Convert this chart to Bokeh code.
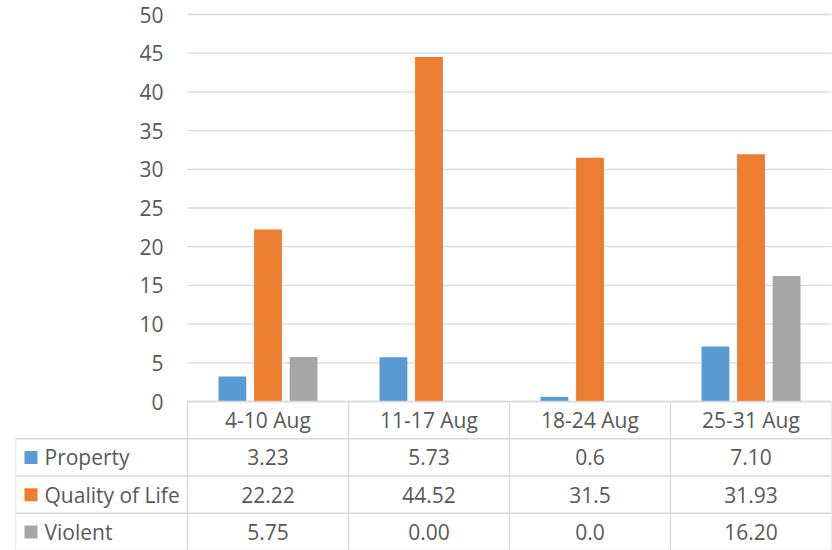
from bokeh.plotting import figure
from bokeh.models import Range1d
from bokeh.core.properties import value
from bokeh.embed import file_html
from bokeh.resources import INLINE

# ---- data ----
weeks = ["4-10 Aug", "11-17 Aug", "18-24 Aug", "25-31 Aug"]
series_names = ["Property", "Quality of Life", "Violent"]
property_vals = [3.23, 5.73, 0.6, 7.10]
quality_vals = [22.22, 44.52, 31.5, 31.93]
violent_vals = [5.75, 0.00, 0.0, 16.20]
property_labels = ["3.23", "5.73", "0.6", "7.10"]
quality_labels = ["22.22", "44.52", "31.5", "31.93"]
violent_labels = ["5.75", "0.00", "0.0", "16.20"]
y_ticks = [0, 5, 10, 15, 20, 25, 30, 35, 40, 45, 50]

colors = ["#5B9BD5", "#ED7D31", "#A5A5A5"]
TEXT = "#595959"
GRID = "#d9d9d9"
FONT = value("Open Sans")
FSIZE = "21px"

n = len(weeks)
LEFT_W = 172 / 161          # label column width, in category widths
TOP_PX = 14                 # space above the 50 gridline
CHART_PX = 387              # pixel height of the 0..50 chart area
TABLE_PX = 149              # pixel height of the data table
ROW_PX = TABLE_PX / 4
UNIT = 50 / CHART_PX

p = figure(x_range=Range1d(-LEFT_W, n),
           y_range=Range1d(-TABLE_PX * UNIT, 50 + TOP_PX * UNIT),
           width=832, height=550, output_backend="svg", toolbar_location=None,
           x_axis_location=None, y_axis_location=None,
           min_border_left=15, min_border_right=1, min_border_top=0, min_border_bottom=0)
p.outline_line_color = None
p.grid.visible = False
# table coordinate system: one unit per row, row 0 at the bottom
p.extra_y_ranges = {"table": Range1d(0, (TOP_PX + CHART_PX + TABLE_PX) / ROW_PX)}

# gridlines and y tick labels
p.segment(x0=[0] * len(y_ticks), x1=[n] * len(y_ticks), y0=y_ticks, y1=y_ticks,
          line_color=GRID, line_width=1.3)
p.text(x=[0] * len(y_ticks), y=y_ticks, text=[str(v) for v in y_ticks], x_offset=-24,
       text_font=FONT, text_font_size=FSIZE, text_color=TEXT,
       text_align="right", text_baseline="middle")

# bars
BW = 0.173
OFF = 0.221
xs = list(range(n))
for vals, off, c in zip([property_vals, quality_vals, violent_vals], [-OFF, 0, OFF], colors):
    p.vbar(x=[i + 0.5 + off for i in xs], top=vals, bottom=0, width=BW,
           fill_color=c, line_color=None)

# ---- data table ----
hx0, hx1, hy = [], [], []
for yy in [3, 2, 1, 0]:
    hx0.append(-LEFT_W); hx1.append(n); hy.append(yy)
hx0.append(0); hx1.append(n); hy.append(4)
p.segment(x0=hx0, x1=hx1, y0=hy, y1=hy, line_color=GRID, line_width=1.3,
          y_range_name="table")
vx, vy0, vy1 = [-LEFT_W], [0], [3]
for i in range(n + 1):
    vx.append(i); vy0.append(0); vy1.append(4)
p.segment(x0=vx, x1=vx, y0=vy0, y1=vy1, line_color=GRID, line_width=1.3,
          y_range_name="table")

p.text(x=[i + 0.5 for i in xs], y=[3.5] * n, text=weeks, text_font=FONT,
       text_font_size=FSIZE, text_color=TEXT, text_align="center",
       text_baseline="middle", y_range_name="table")

rows = [property_labels, quality_labels, violent_labels]
for r, (name, labels, c) in enumerate(zip(series_names, rows, colors)):
    yy = 2.5 - r
    p.text(x=[i + 0.5 for i in xs], y=[yy] * n, text=labels, text_font=FONT,
           text_font_size=FSIZE, text_color=TEXT, text_align="center",
           text_baseline="middle", y_range_name="table")
    p.scatter(x=[-LEFT_W + 15.5 / 161], y=[yy], marker="square", size=13,
              fill_color=c, line_color=None, y_range_name="table")
    p.text(x=[-LEFT_W + 29 / 161], y=[yy], text=[name], text_font=FONT,
           text_font_size=FSIZE, text_color=TEXT, text_align="left",
           text_baseline="middle", y_range_name="table")

open("out.html", "w").write(file_html(p, INLINE))
